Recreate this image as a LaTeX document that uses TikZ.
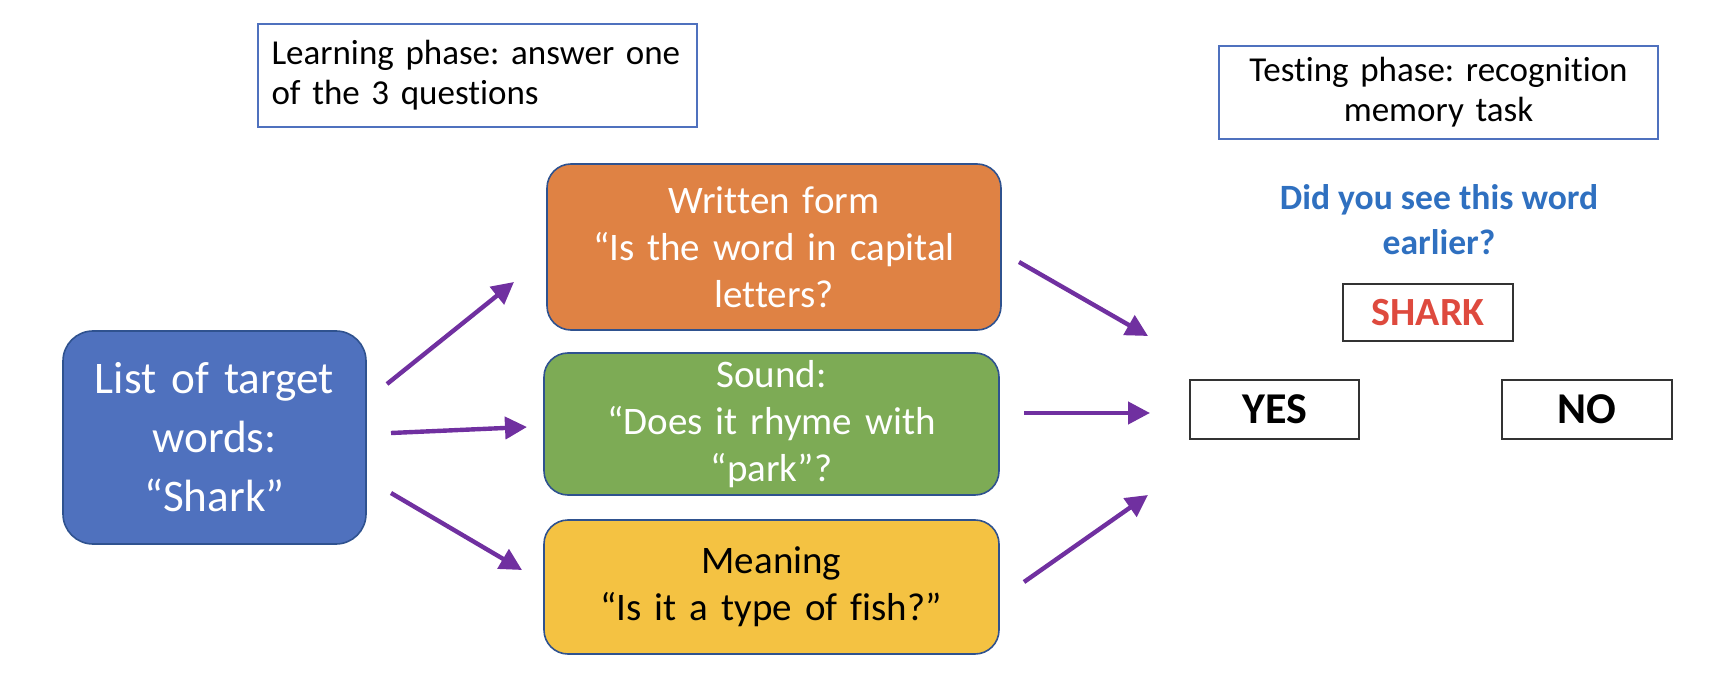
\documentclass[tikz,border=0pt]{standalone}
\usepackage{fontspec}
\setmainfont{Carlito}[Ligatures={NoCommon}]
\frenchspacing
\usetikzlibrary{arrows.meta}
\definecolor{boxblue}{HTML}{4F71BE}
\definecolor{edgeblue}{HTML}{2F528F}
\definecolor{boxorange}{HTML}{DF8244}
\definecolor{boxgreen}{HTML}{7DAB55}
\definecolor{boxyellow}{HTML}{F4C242}
\definecolor{arrowpurple}{HTML}{7030A0}
\definecolor{askblue}{HTML}{2F70C0}
\definecolor{sharkred}{HTML}{DE4A3E}
\definecolor{answeredge}{HTML}{333333}
\begin{document}
\begin{tikzpicture}[x=0.5pt,y=-0.5pt,
  phasebox/.style={draw=boxblue, line width=0.8pt, inner sep=0pt, font=\fontsize{17.5}{20}\selectfont},
  procbox/.style={draw=edgeblue, line width=0.8pt, rounded corners=12pt, align=center, inner sep=0pt, font=\fontsize{19.5}{23.5}\selectfont},
  answerbox/.style={draw=answeredge, line width=1.2pt, inner sep=0pt, font=\bfseries\fontsize{20}{24}\selectfont},
  arr/.style={draw=arrowpurple, line width=2.2pt, -{Triangle[length=11pt,width=11pt]}}
]
\useasboundingbox (0,0) rectangle (1714,700);

\node[phasebox, minimum width=219.5pt, minimum height=51.5pt, text width=206pt, align=left] (learn) at (477.5,75.5)
  {Learning phase: answer one\\of the 3 questions};
\node[phasebox, minimum width=219.5pt, minimum height=46.5pt, text width=212pt, align=center] (test) at (1438.5,92.5)
  {Testing phase: recognition\\memory task};

\node[procbox, fill=boxblue, text=white, rounded corners=15pt, minimum width=151.5pt, minimum height=106.5pt, text width=145pt,
  font=\fontsize{22.6}{29.5}\selectfont] (list) at (214.5,437.5)
  {List of target\\words:\\“Shark”};

\node[procbox, fill=boxorange, text=white, minimum width=227pt, minimum height=83pt, text width=222pt] (written) at (774,247)
  {Written form\\“Is the word in capital\\letters?};
\node[procbox, fill=boxgreen, text=white, minimum width=227.5pt, minimum height=71pt, text width=222pt] (sound) at (771.5,424)
  {Sound:\\“Does it rhyme with\\“park”?};
\node[procbox, fill=boxyellow, text=black, minimum width=227.5pt, minimum height=67pt, text width=222pt] (meaning) at (771.5,587)
  {Meaning\\“Is it a type of fish?”};

\node[text=askblue, align=center, font=\bfseries\fontsize{17.8}{22.5}\selectfont] (ask) at (1439,220)
  {Did you see this word\\earlier?};
\node[answerbox, text=sharkred, minimum width=85pt, minimum height=28.5pt] (shark) at (1428,312.5) {SHARK};
\node[answerbox, minimum width=84.5pt, minimum height=29.5pt, font=\bfseries\fontsize{22}{26}\selectfont] (yes) at (1274.5,409.5) {YES};
\node[answerbox, minimum width=85pt, minimum height=29.5pt, font=\bfseries\fontsize{22}{26}\selectfont] (no) at (1587,409.5) {NO};

\coordinate (a1s) at (387,384);  \coordinate (a1e) at (514,282);
\coordinate (a2s) at (391,433);  \coordinate (a2e) at (527,427);
\coordinate (a3s) at (391,493);  \coordinate (a3e) at (522,570);
\coordinate (b1s) at (1019,262); \coordinate (b1e) at (1148,336);
\coordinate (b2s) at (1024,413); \coordinate (b2e) at (1150,413);
\coordinate (b3s) at (1024,582); \coordinate (b3e) at (1148,495);

\draw[arr] (a1s) -- (a1e);
\draw[arr] (a2s) -- (a2e);
\draw[arr] (a3s) -- (a3e);
\draw[arr] (b1s) -- (b1e);
\draw[arr] (b2s) -- (b2e);
\draw[arr] (b3s) -- (b3e);
\end{tikzpicture}
\end{document}
